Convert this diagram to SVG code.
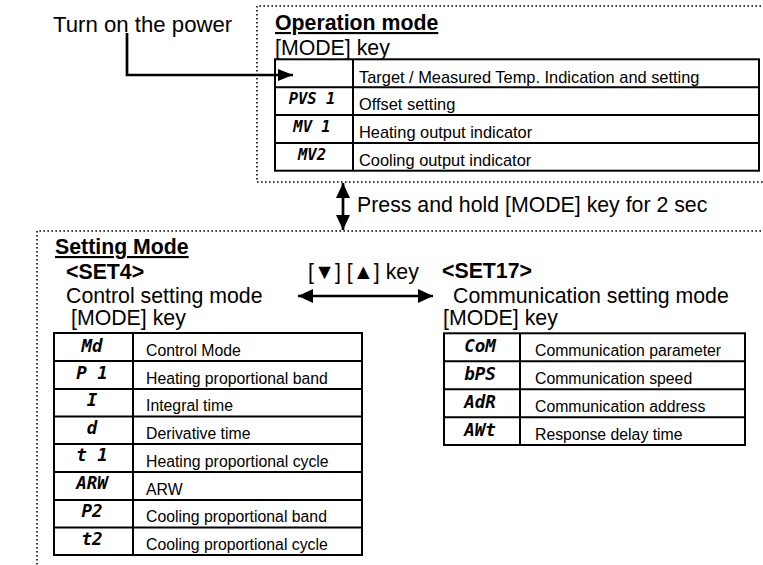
<svg xmlns="http://www.w3.org/2000/svg" width="763" height="565" viewBox="0 0 763 565">
<style>
text{font-family:"Liberation Sans",Arial,sans-serif;fill:#000}
.big{font-size:21.3px}
.bold{font-weight:bold}
.ul{text-decoration:underline}
.t16{font-size:16.4px}
.t15{font-size:15.8px}
.code{font-family:"DejaVu Sans Mono",monospace;font-weight:bold;font-style:italic;text-anchor:middle}
.c15{font-size:15.5px}
.c17{font-size:17.5px}
.dot{fill:none;stroke:#000;stroke-width:1.6;stroke-dasharray:1.6 2.4}
.tbl{fill:none;stroke:#000;stroke-width:2}
.conn{fill:none;stroke:#000;stroke-width:2.7}
</style>
<defs>
<marker id="ah" markerUnits="userSpaceOnUse" markerWidth="15" markerHeight="14" refX="15" refY="7" orient="auto-start-reverse" viewBox="0 0 15 14">
<path d="M0,0 L15,7 L0,14 Z" fill="#000"/>
</marker>
<marker id="ahs" markerUnits="userSpaceOnUse" markerWidth="15" markerHeight="12" refX="15" refY="6" orient="auto" viewBox="0 0 15 12">
<path d="M0,0 L15,6 L0,12 Z" fill="#000"/>
</marker>
</defs>

<text id="power" class="big" x="53" y="32" style="font-size:22.2px">Turn on the power</text>

<g id="operation-mode">
<path class="dot" d="M765,6 H257 V182 H765"/>
<text class="big bold ul" x="275" y="30">Operation mode</text>
<text class="big" x="275" y="55">[MODE] key</text>
<rect class="tbl" x="275" y="59.3" width="484" height="111.4"/>
<path class="tbl" d="M353,59.3 V170.7 M275,87.3 H759 M275,115 H759 M275,143 H759"/>
<text class="t16" x="359" y="82.5">Target / Measured Temp. Indication and setting</text>
<text class="code c15" x="312" y="103.5">PVS 1</text>
<text class="t16" x="359" y="110">Offset setting</text>
<text class="code c15" x="312" y="131.5">MV 1</text>
<text class="t16" x="359" y="138">Heating output indicator</text>
<text class="code c15" x="312" y="159.5">MV2</text>
<text class="t16" x="359" y="166">Cooling output indicator</text>
</g>

<g id="setting-mode">
<path class="dot" d="M765,231 H37 V567"/>
<text class="big bold ul" x="55" y="254">Setting Mode</text>
<text class="big bold" x="66" y="279">&lt;SET4&gt;</text>
<text class="big" x="66" y="303">Control setting mode</text>
<text class="big" x="71" y="325">[MODE] key</text>
<text class="big" x="308" y="279">[▼] [▲] key</text>
<text class="big bold" x="442" y="278">&lt;SET17&gt;</text>
<text class="big" x="453" y="303">Communication setting mode</text>
<text class="big" x="443" y="325">[MODE] key</text>
</g>

<g id="set4-table">
<rect class="tbl" x="54" y="333" width="308" height="222"/>
<path class="tbl" d="M133,333 V555 M54,361 H362 M54,389 H362 M54,416.5 H362 M54,444 H362 M54,472 H362 M54,500 H362 M54,527.5 H362"/>
<text class="code c17" x="92" y="352">Md</text>
<text class="t15" x="146" y="355.5">Control Mode</text>
<text class="code c17" x="92" y="379">P 1</text>
<text class="t15" x="146" y="383.5">Heating proportional band</text>
<text class="code c17" x="92" y="406">I</text>
<text class="t15" x="146" y="411">Integral time</text>
<text class="code c17" x="92" y="433.5">d</text>
<text class="t15" x="146" y="438.5">Derivative time</text>
<text class="code c17" x="92" y="461">t 1</text>
<text class="t15" x="146" y="466.5">Heating proportional cycle</text>
<text class="code c17" x="92" y="489">ARW</text>
<text class="t15" x="146" y="494.5">ARW</text>
<text class="code c17" x="92" y="517">P2</text>
<text class="t15" x="146" y="522">Cooling proportional band</text>
<text class="code c17" x="92" y="544.5">t2</text>
<text class="t15" x="146" y="549.5">Cooling proportional cycle</text>
</g>

<g id="set17-table">
<rect class="tbl" x="444" y="333.3" width="301" height="111.7"/>
<path class="tbl" d="M520,333.3 V445 M444,361.3 H745 M444,389.3 H745 M444,417.3 H745"/>
<text class="code c17" x="480" y="351.5">CoM</text>
<text class="t15" x="535" y="356">Communication parameter</text>
<text class="code c17" x="480" y="379.5">bPS</text>
<text class="t15" x="535" y="384">Communication speed</text>
<text class="code c17" x="480" y="407.5">AdR</text>
<text class="t15" x="535" y="412">Communication address</text>
<text class="code c17" x="480" y="435.5">AWt</text>
<text class="t15" x="535" y="440">Response delay time</text>
</g>

<g id="connectors">
<path class="conn" d="M127,33 V75 H293" marker-end="url(#ahs)"/>
<line class="conn" x1="343" y1="183" x2="343" y2="230" marker-start="url(#ah)" marker-end="url(#ah)"/>
<line class="conn" x1="298" y1="296" x2="433" y2="296" marker-start="url(#ah)" marker-end="url(#ah)"/>
<text class="big" x="357" y="212">Press and hold [MODE] key for 2 sec</text>
</g>
</svg>
